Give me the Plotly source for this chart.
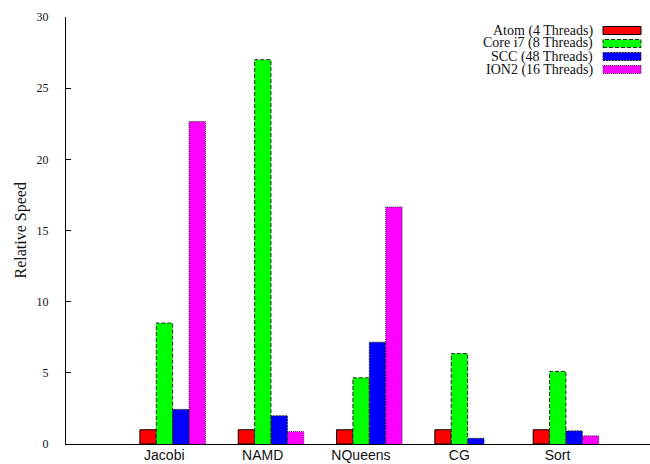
import numpy as np
import plotly.graph_objects as go

# Benchmarks and per-platform relative speed
benchmarks = ["Jacobi", "NAMD", "NQueens", "CG", "Sort"]
series_names = ["Atom (4 Threads)", "Core i7 (8 Threads)", "SCC (48 Threads)", "ION2 (16 Threads)"]
atom = [1.0, 1.0, 1.0, 1.0, 1.0]
core_i7 = [8.5, 27.0, 4.65, 6.35, 5.1]
scc = [2.43, 1.98, 7.15, 0.4, 0.92]
ion2 = [22.65, 0.87, 16.65, None, 0.57]
y_ticks = [0, 5, 10, 15, 20, 25, 30]

series_values = [atom, core_i7, scc, ion2]
fills = ["#ff0000", "#00ff00", "#0000ff", "#ff00ff"]
edge_dash = ["solid", "4px,2px", "2px,1px", "1px,1px"]
edge_color = ["#000000", "#2a2a2a", "#2a2a2a", "#2a2a2a"]

pos = np.arange(len(benchmarks))
shift = 0.085          # cluster centre sits slightly right of the tick
bar_w = 1.0 / 6.0      # 4 bars + gap of 2 per cluster

fig = go.Figure()

for k, (name, vals) in enumerate(zip(series_names, series_values)):
    centers = pos + shift + (k - 1.5) * bar_w
    fig.add_trace(go.Bar(
        x=centers, y=vals, width=bar_w, name=name,
        marker=dict(color=fills[k],
                    line=dict(color="#000000", width=1 if k == 0 else 0)),
        showlegend=False,
    ))
    if k > 0:
        # dashed outline around each bar
        ox, oy = [], []
        for c, v in zip(centers, vals):
            if v is None:
                continue
            l, r = c - bar_w / 2, c + bar_w / 2
            ox += [l, l, r, r, None]
            oy += [0, v, v, 0, None]
        fig.add_trace(go.Scatter(
            x=ox, y=oy, mode="lines", showlegend=False, hoverinfo="skip",
            line=dict(color=edge_color[k], width=1, dash=edge_dash[k]),
        ))

# Legend: right-aligned labels followed by a swatch
W, H = 650, 464
ml, mr, mt, mb = 66, 0, 17, 20
pw, ph = W - ml - mr, H - mt - mb
row_px = [30.5, 43.5, 56.5, 69.5]
for k, name in enumerate(series_names):
    yc = 1 - (row_px[k] - mt) / ph
    fig.add_annotation(
        xref="paper", yref="paper", x=(595 - ml) / pw, y=yc,
        text=name, showarrow=False, xanchor="right", yanchor="middle",
        font=dict(family="Liberation Serif", size=14, color="#111111"),
    )
    fig.add_shape(
        type="rect", xref="paper", yref="paper",
        x0=(603 - ml) / pw, x1=(641 - ml) / pw,
        y0=yc - 4 / ph, y1=yc + 4 / ph,
        fillcolor=fills[k],
        line=dict(color=edge_color[k], width=1, dash=edge_dash[k]),
    )

fig.add_annotation(
    xref="paper", yref="paper", x=(20 - ml) / pw, y=0.5,
    text="Relative Speed", showarrow=False, textangle=-90,
    xanchor="center", yanchor="middle",
    font=dict(family="Liberation Serif", size=16, color="#111111"),
)

fig.update_layout(
    width=W, height=H, autosize=False,
    margin=dict(l=ml, r=mr, t=mt, b=mb),
    paper_bgcolor="white", plot_bgcolor="white",
    barmode="overlay",
    xaxis=dict(
        range=[-1.0, 4.94], tickvals=pos, ticktext=benchmarks,
        showgrid=False, zeroline=False, showline=True, automargin=False,
        linecolor="#000000", linewidth=1, ticks="",
        ticklabelstandoff=-2,
        tickfont=dict(family="Liberation Sans", size=14, color="#111111"),
    ),
    yaxis=dict(
        range=[0, 30], tickvals=y_ticks, automargin=False,
        showgrid=False, zeroline=False, showline=True,
        linecolor="#000000", linewidth=1,
        ticks="inside", ticklen=5, tickcolor="#000000",
        ticklabelstandoff=14,
        tickfont=dict(family="Liberation Serif", size=12, color="#111111"),
    ),
)

fig.write_html("out.html")
